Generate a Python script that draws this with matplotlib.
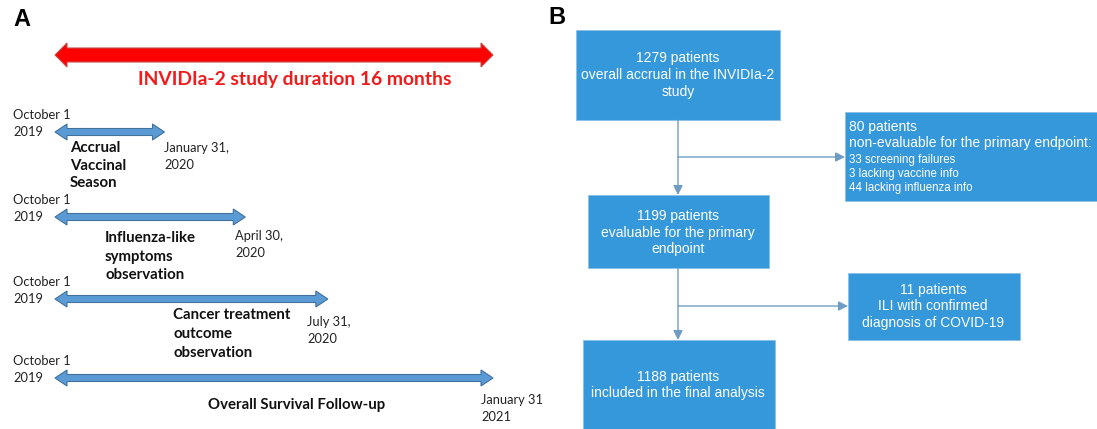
import matplotlib
matplotlib.use("Agg")
import matplotlib.pyplot as plt
import numpy as np
from matplotlib.patches import Rectangle, Polygon, FancyArrowPatch

# ---------------- data ----------------
study_start = "2019-10-01"
study_end = "2021-01-31"
study_title = "INVIDIa-2 study duration 16 months"
start_label = ["October 1", "2019"]
phase_labels = [
    ["Accrual", "Vaccinal", "Season"],
    ["Influenza-like", "symptoms", "observation"],
    ["Cancer treatment", "outcome", "observation"],
    ["Overall Survival Follow-up"],
]
phase_end = ["2020-01-31", "2020-04-30", "2020-07-31", "2021-01-31"]
phase_end_labels = [
    ["January 31,", "2020"],
    ["April 30,", "2020"],
    ["July 31,", "2020"],
    ["January 31", "2021"],
]

flow_counts = [1279, 80, 1199, 11, 1188]
flow_desc = [
    ["overall accrual in the INVIDIa-2", "study"],
    ["non-evaluable for the primary endpoint:"],
    ["evaluable for the primary", "endpoint"],
    ["ILI with confirmed", "diagnosis of COVID-19"],
    ["included in the final analysis"],
]
excluded_reasons = ["screening failures", "lacking vaccine info", "lacking influenza info"]
excluded_counts = [33, 3, 44]

# ---------------- layout ----------------
W, H = 1097, 429
DPI = 100
fig = plt.figure(figsize=(W / DPI, H / DPI), dpi=DPI)
fig.patch.set_facecolor("white")

# overlay axes in pixel coordinates
ax = fig.add_axes([0, 0, 1, 1])
ax.set_xlim(0, W)
ax.set_ylim(H, 0)
ax.axis("off")

# timeline axes: x in days since study start
days = lambda d: (np.datetime64(d) - np.datetime64(study_start)).astype(int)
total_days = days(study_end)
x0_px, x1_px = 55, 493
k = (x1_px - x0_px) / total_days
axA = fig.add_axes([0, 0, 540 / W, 1])
axA.set_xlim(-x0_px / k, (540 - x0_px) / k)
axA.set_ylim(H, 0)
axA.axis("off")
axA.patch.set_alpha(0)

renderer = fig.canvas.get_renderer()


def fit(s, target_px, **kw):
    t = ax.text(0, 0, s, fontsize=10, **kw)
    w = t.get_window_extent(renderer).width
    t.remove()
    return 10 * target_px / w


def lines(x, y0, pitch, items, **kw):
    for i, s in enumerate(items):
        ax.text(x, y0 + i * pitch, s, va="center", **kw)


def double_arrow(a, d0, d1, yc, hb, hh, hl_px, fc, ec, lw):
    hl = hl_px / k
    pts = [(d0, yc), (d0 + hl, yc - hh), (d0 + hl, yc - hb), (d1 - hl, yc - hb),
           (d1 - hl, yc - hh), (d1, yc), (d1 - hl, yc + hh), (d1 - hl, yc + hb),
           (d0 + hl, yc + hb), (d0 + hl, yc + hh)]
    a.add_patch(Polygon(pts, closed=True, fc=fc, ec=ec, lw=lw, joinstyle="miter"))


FA = "Lato"
reg = fit("October 1", 53, family=FA) * 1.1
bold = fit("Overall Survival Follow-up", 164, family=FA, fontweight="bold") * 1.08
title_fs = fit(study_title, 305, family=FA, fontweight="bold") * 1.03

# ---- Panel A ----
ax.text(13, 19, "A", fontsize=17, fontweight="bold", family="Liberation Sans", va="center")
double_arrow(axA, 0, total_days, 55, 7, 12, 12, "#FF0000", "#C0504D", 0.8)
ax.text(295, 80, study_title, fontsize=title_fs, family=FA, fontweight="bold",
        color="#EE1C1C", ha="center", va="center")

blue, blue_e = "#5B9BD5", "#41719C"
row_y = [132, 217, 299, 378]
phase_pos = [(70, 148, 17.5), (105, 238, 18.5), (173, 315, 19), (208, 405, 0)]
end_pos = [(164, 148, 17), (235, 236, 17), (307, 322, 17), (481, 400, 17)]
for i in range(4):
    yc = row_y[i]
    double_arrow(axA, 0, days(phase_end[i]), yc, 3.5, 8, 12, blue, blue_e, 0.8)
    lines(13, yc - 17, 17, start_label, family=FA, fontsize=reg, color="#222222")
    px, py, pp = phase_pos[i]
    lines(px, py, pp, phase_labels[i], family=FA, fontsize=bold, fontweight="bold", color="#111111")
    ex, ey, ep = end_pos[i]
    lines(ex, ey, ep, phase_end_labels[i], family=FA, fontsize=reg, color="#222222")

# ---- Panel B ----
ax.text(548, 18, "B", fontsize=17, fontweight="bold", family="Liberation Sans", va="center")
box_c = "#3598DB"
line_c = "#6F9CC4"
FB = "Liberation Sans"
main_fs = fit("overall accrual in the INVIDIa-2", 194, family=FB)
small_fs = fit("33 screening failures", 107, family=FB)

boxes = [(576, 30, 780, 120), (845, 112, 1100, 201), (588, 195, 769, 268),
         (848, 273, 1020, 340), (583, 340, 775, 440)]
for (bx0, by0, bx1, by1) in boxes:
    ax.add_patch(Rectangle((bx0, by0), bx1 - bx0, by1 - by0, fc=box_c, ec="#8CC0E8", lw=0.6))

cx = 678
center_text = [(cx, 58, 17), None, (cx, 216, 16.5), (933, 290, 16.5), (cx, 377, 16.5)]
for i, pos in enumerate(center_text):
    if pos is None:
        continue
    x, y, p = pos
    lines(x, y, p, ["%d patients" % flow_counts[i]] + flow_desc[i], family=FB,
          fontsize=main_fs, color="white", ha="center")

lines(849, 127, 16, ["%d patients" % flow_counts[1]] + flow_desc[1], family=FB,
      fontsize=main_fs, color="white", ha="left")
lines(849, 160, 14, ["%d %s" % (c, r) for c, r in zip(excluded_counts, excluded_reasons)],
      family=FB, fontsize=small_fs, color="white", ha="left")


def arrow(p0, p1):
    ax.add_patch(FancyArrowPatch(p0, p1, arrowstyle="-|>,head_length=4,head_width=2",
                                 mutation_scale=1.4, color=line_c, lw=1.0,
                                 shrinkA=0, shrinkB=0))


arrow((cx, 120), (cx, 195))
arrow((cx, 157), (845, 157))
arrow((cx, 268), (cx, 340))
arrow((cx, 306), (848, 306))

fig.savefig("out.png", dpi=DPI, facecolor="white")
